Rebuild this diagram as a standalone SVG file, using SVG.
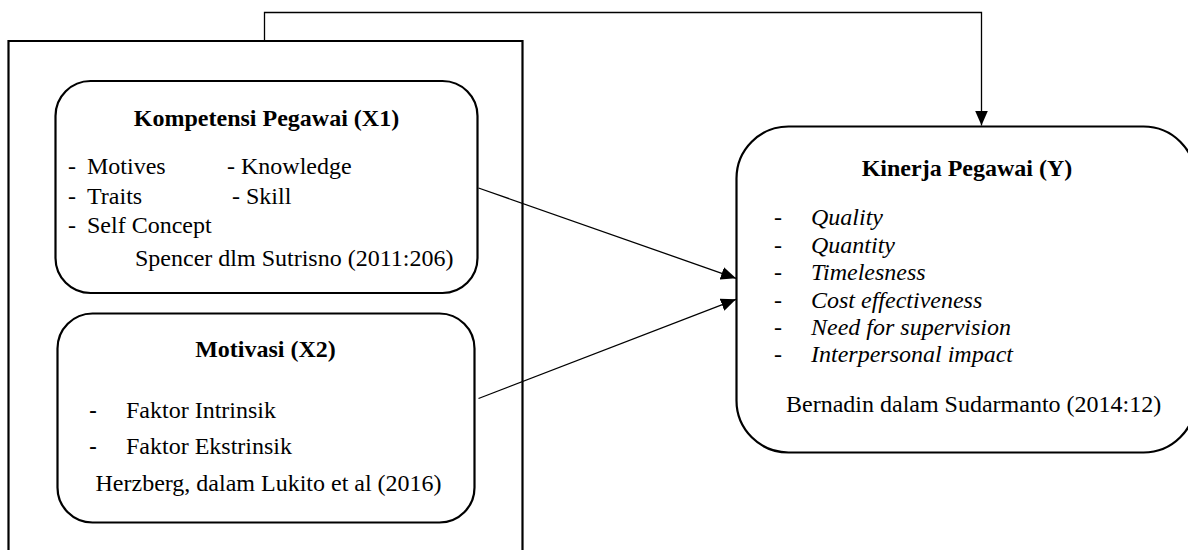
<svg xmlns="http://www.w3.org/2000/svg" width="1188" height="550" viewBox="0 0 1188 550">
<style>
text{font-family:"Liberation Serif","Times New Roman",serif;font-size:24px;fill:#000}
.b{font-weight:bold}
.i{font-style:italic}
.c{text-anchor:middle}
.dash{font-family:"Liberation Sans",Arial,sans-serif}
.box{fill:none;stroke:#000;stroke-width:2.2}
.conn{fill:none;stroke:#000;stroke-width:1.3}
</style>
<defs>
<marker id="arr" markerUnits="userSpaceOnUse" markerWidth="16" markerHeight="14" refX="15" refY="6.5" orient="auto">
<path d="M0,0 L15,6.5 L0,13 Z" fill="#000"/>
</marker>
</defs>
<rect width="1188" height="550" fill="#fff"/>
<g id="outer-frame">
<path class="box" d="M8.5,552 V41 H522.5 V552"/>
</g>
<g id="kompetensi">
<rect class="box" x="55.5" y="81" width="422" height="212" rx="35" ry="35"/>
<text class="b c" x="266.5" y="126">Kompetensi Pegawai (X1)</text>
<text x="68" y="174">-</text><text x="87" y="174">Motives</text>
<text x="227" y="174">- Knowledge</text>
<text x="68" y="203.5">-</text><text x="87" y="203.5">Traits</text>
<text x="232" y="203.5">- Skill</text>
<text x="68" y="233">-</text><text x="87" y="233">Self Concept</text>
<text x="135" y="265.5">Spencer dlm Sutrisno (2011:206)</text>
</g>
<g id="motivasi">
<rect class="box" x="57.5" y="313.5" width="417" height="209" rx="35" ry="35"/>
<text class="b c" x="265.5" y="357">Motivasi (X2)</text>
<text class="dash" x="89" y="418">-</text><text x="126" y="418">Faktor Intrinsik</text>
<text class="dash" x="89" y="454">-</text><text x="126" y="454">Faktor Ekstrinsik</text>
<text x="95.5" y="490.5">Herzberg, dalam Lukito et al (2016)</text>
</g>
<g id="kinerja">
<rect class="box" x="736.5" y="126.5" width="459" height="326" rx="52" ry="52"/>
<text class="b c" x="967" y="176">Kinerja Pegawai (Y)</text>
<text x="774" y="225">-</text><text class="i" x="811" y="225">Quality</text>
<text x="774" y="252.5">-</text><text class="i" x="811" y="252.5">Quantity</text>
<text x="774" y="280">-</text><text class="i" x="811" y="280">Timelesness</text>
<text x="774" y="308">-</text><text class="i" x="811" y="308">Cost effectiveness</text>
<text x="774" y="335">-</text><text class="i" x="811" y="335">Need for supervision</text>
<text x="774" y="362">-</text><text class="i" x="811" y="362">Interpersonal impact</text>
<text x="786" y="411.5">Bernadin dalam Sudarmanto (2014:12)</text>
</g>
<g id="connectors">
<path class="conn" d="M478.5,188 L736,278.3" marker-end="url(#arr)"/>
<path class="conn" d="M478.5,398.5 L736,299.3" marker-end="url(#arr)"/>
<path class="conn" stroke-width="1.1" d="M264.5,41 V12.5 H981.5 V125.5" marker-end="url(#arr)"/>
</g>
</svg>
